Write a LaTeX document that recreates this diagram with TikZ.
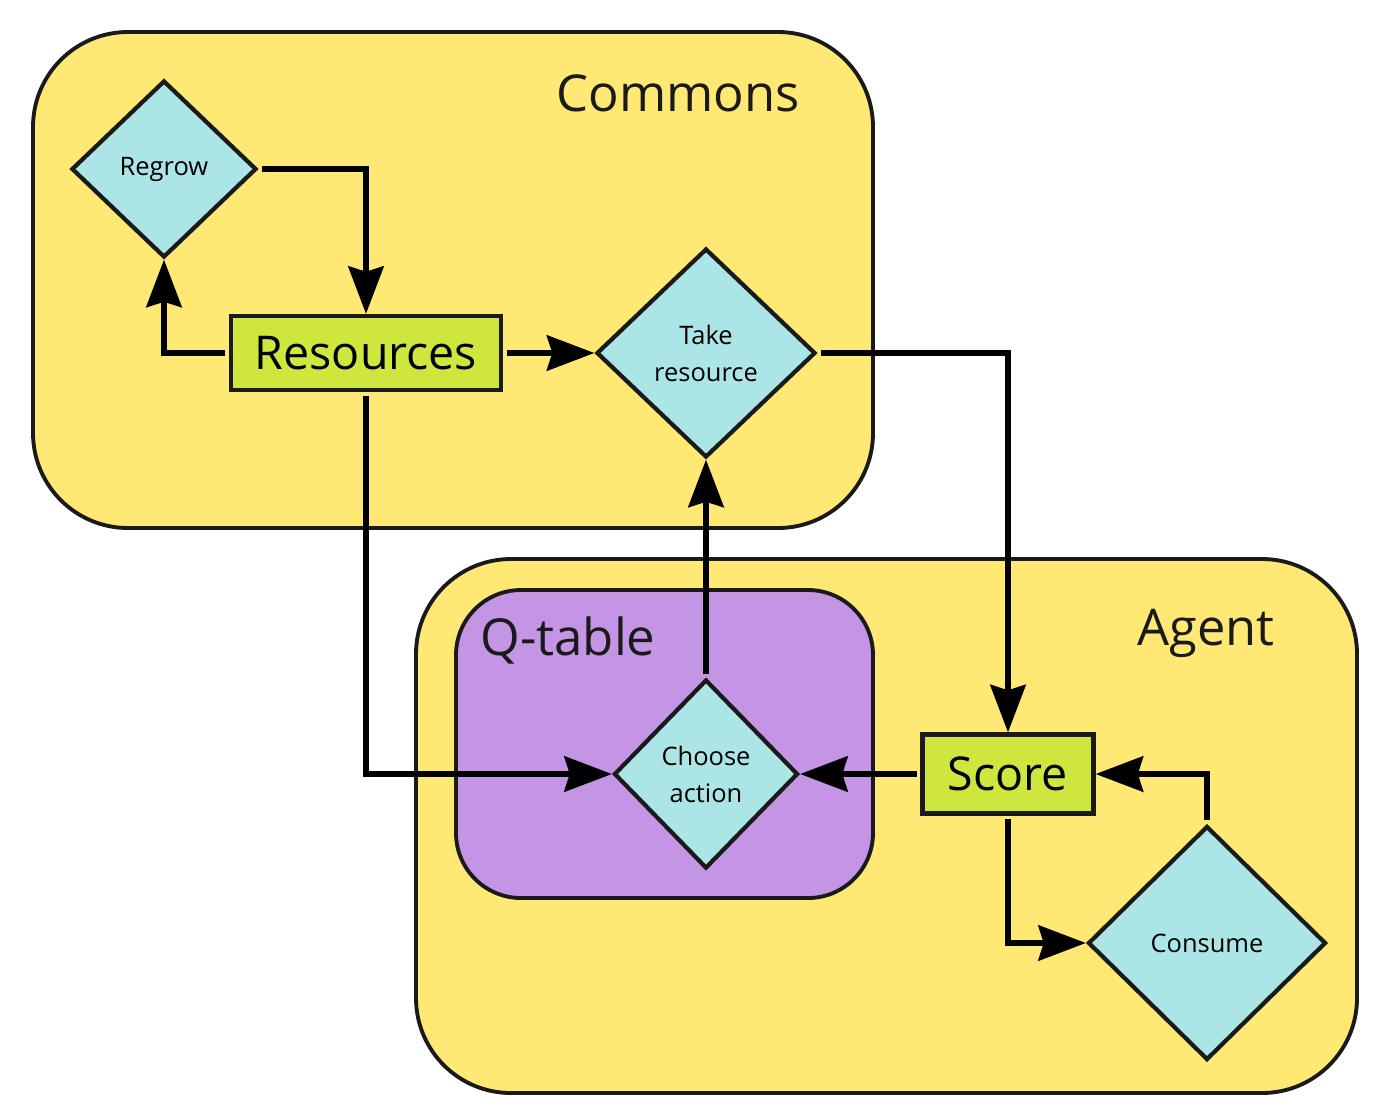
\documentclass[tikz,border=0pt]{standalone}
\usepackage{fontspec}
\setmainfont{Open Sans}
\usetikzlibrary{shapes.geometric,arrows.meta}
\definecolor{zone}{RGB}{255,232,115}
\definecolor{qtab}{RGB}{195,149,228}
\definecolor{act}{RGB}{172,229,229}
\definecolor{stock}{RGB}{206,230,62}
\definecolor{ink}{RGB}{26,26,26}

\begin{document}
\begin{tikzpicture}[x=0.02cm,y=-0.02cm,
    area/.style={draw=ink,line width=2.2pt,rounded corners=1.9cm,fill=zone},
    decide/.style={diamond,draw=ink,line width=2.4pt,fill=act,inner sep=0pt,
      align=center,font=\fontsize{14.5}{21}\selectfont},
    stockbox/.style={rectangle,draw=ink,line width=2.4pt,fill=stock,inner sep=0pt,
      font=\fontsize{26.5}{30}\selectfont},
    flow/.style={line width=3.6pt,-{Stealth[length=27pt,width=20pt,inset=3pt]},
      shorten <=2pt}]
    \useasboundingbox (0,0) rectangle (1378,1107);
    % containers
    \draw[area] (33,32) rectangle (873,528);
    \draw[area] (416,559) rectangle (1357,1093);
    \draw[area,fill=qtab,rounded corners=1.3cm] (456,590) rectangle (873,898);
    \node[text=ink,font=\fontsize{28.9}{32}\selectfont] (commons) at (678,93) {Commons};
    \node[text=ink,font=\fontsize{28.8}{32}\selectfont] (agent) at (1206,633) {Agent};
    \node[text=ink,font=\fontsize{29}{32}\selectfont] (qtable) at (568,640) {Q-table};
    % nodes
    \node[decide,minimum width=3.7cm,minimum height=3.54cm] (regrow) at (164,169) {Regrow};
    \node[stockbox,minimum width=5.4cm,minimum height=1.48cm] (res) at (366,353) {Resources};
    \node[decide,minimum width=4.38cm,minimum height=4.18cm] (take) at (706,353) {Take\\resource};
    \node[decide,minimum width=3.68cm,minimum height=3.78cm] (choose) at (706,774) {Choose\\action};
    \node[stockbox,minimum width=3.42cm,minimum height=1.58cm] (score) at (1008,774) {Score};
    \node[decide,minimum width=4.76cm,minimum height=4.68cm] (consume) at (1207,943) {Consume};
    % connectors
    \draw[flow] (regrow.east) -| (res.north);
    \draw[flow] (res.west) -| (regrow.south);
    \draw[flow] (res.east) -- (take.west);
    \draw[flow] (take.east) -| (score.north);
    \draw[flow] (res.south) |- (choose.west);
    \draw[flow] (choose.north) -- (take.south);
    \draw[flow] (score.west) -- (choose.east);
    \draw[flow] (score.south) |- (consume.west);
    \draw[flow] (consume.north) |- (score.east);
\end{tikzpicture}
\end{document}
